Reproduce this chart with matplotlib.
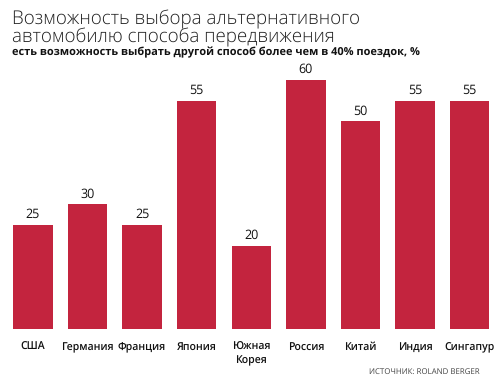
import matplotlib
matplotlib.use("Agg")
import matplotlib.pyplot as plt
from matplotlib.transforms import blended_transform_factory

plt.rcParams["text.hinting"] = "no_hinting"

categories = ["США", "Германия", "Франция", "Япония", "Южная\nКорея", "Россия", "Китай", "Индия", "Сингапур"]
values = [25, 30, 25, 55, 20, 60, 50, 55, 55]

title1 = "Возможность выбора альтернативного"
title2 = "автомобилю способа передвижения"
subtitle = "есть возможность выбрать другой способ более чем в 40% поездок, %"
source = "ИСТОЧНИК: ROLAND BERGER"

bar_color = "#C3243E"
W, H = 504, 380

fig = plt.figure(figsize=(W / 100, H / 100), dpi=100)
ax_bottom_px = 329
ax_h_frac = 0.71
ax = fig.add_axes([0.011, 1 - ax_bottom_px / H, 0.975, ax_h_frac])
x = list(range(len(categories)))
ax.bar(x, values, width=0.72, color=bar_color)
ax.set_xlim(-0.5, len(categories) - 0.5)
ax.set_ylim(0, 65)
for s in ax.spines.values():
    s.set_visible(False)
ax.set_yticks([])
ax.set_xticks([])

trans = blended_transform_factory(ax.transData, fig.transFigure)
for xi, lab in zip(x, categories):
    for j, line in enumerate(lab.split("\n")):
        ax.text(xi, 1 - (350 + 13 * j) / H, line, transform=trans, ha="center", va="baseline",
                fontsize=7.6, family="Open Sans", fontweight="semibold", color="#111111")

for xi, v in zip(x, values):
    ax.annotate(str(v), (xi, v), xytext=(0, 5), textcoords="offset points",
                ha="center", va="baseline", fontsize=9, family="Open Sans", color="#111111")

fig.text(12 / W, 1 - 24.5 / H, title1, fontsize=13.5, family="Open Sans", fontweight="light", color="#222222", va="baseline")
fig.text(12 / W, 1 - 42 / H, title2, fontsize=13.5, family="Open Sans", fontweight="light", color="#222222", va="baseline")
fig.text(12 / W, 1 - 55.5 / H, subtitle, fontsize=7.9, family="Open Sans", fontweight="bold", color="#111111", va="baseline")
fig.text(480 / W, 1 - 374 / H, source, fontsize=5.7, family="Open Sans", color="#444444", ha="right", va="baseline")

fig.savefig("out.png", dpi=100)
